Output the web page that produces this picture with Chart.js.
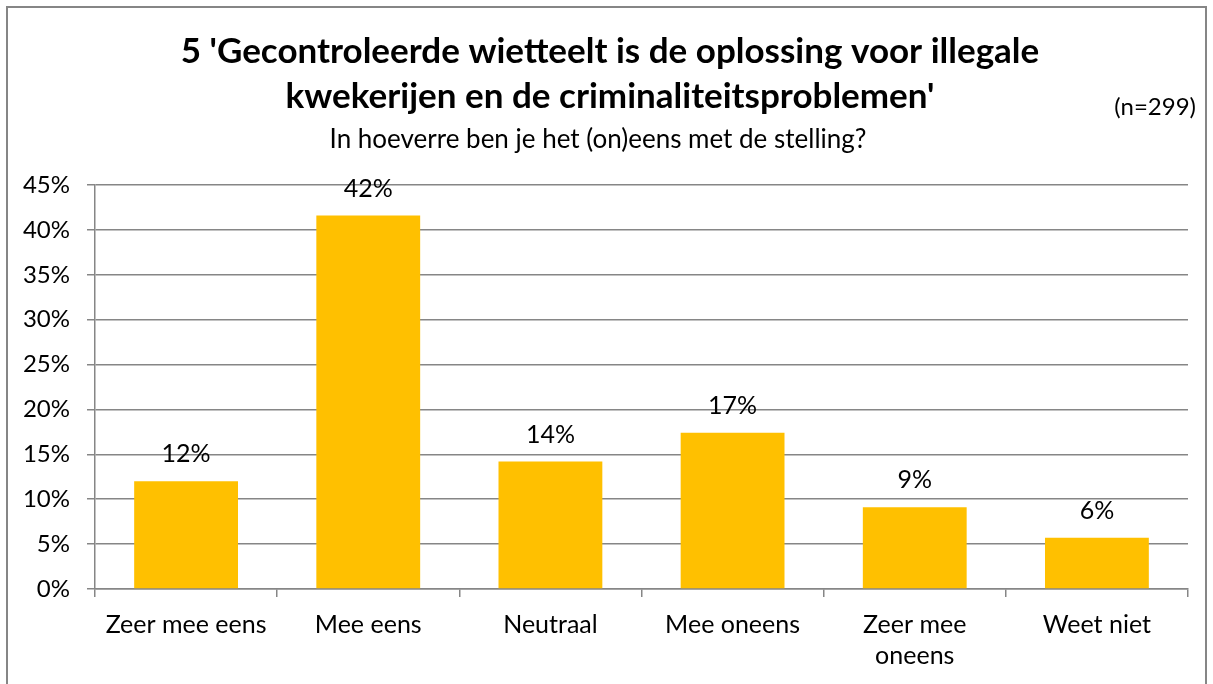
<!DOCTYPE html>
<html>
<head>
<meta charset="utf-8">
<script src="https://cdn.jsdelivr.net/npm/chart.js@4"></script>
<style>
  html,body{margin:0;padding:0;background:#fff;}
  #wrap{width:1213px;height:684px;}
</style>
</head>
<body>
<div id="wrap"><canvas id="c" width="1213" height="684"></canvas></div>
<script>
const categories = ["Zeer mee eens", "Mee eens", "Neutraal", "Mee oneens", ["Zeer mee", "oneens"], "Weet niet"];
const percentages = [12.0, 41.6, 14.2, 17.4, 9.1, 5.7];
const yTicks = [0, 5, 10, 15, 20, 25, 30, 35, 40, 45];
const titleLines = ["5 'Gecontroleerde wietteelt is de oplossing voor illegale", "kwekerijen en de criminaliteitsproblemen'"];
const subtitleText = "In hoeverre ben je het (on)eens met de stelling?";
const sampleNote = "(n=299)";

const FONT = "Lato, 'Open Sans', sans-serif";

const framePlugin = {
  id: 'frame',
  afterLayout(chart) {
    chart.boxes.forEach(b => {
      if (b.position === 'top' && b.options && b.options.text !== undefined) {
        if (Array.isArray(b.options.text)) { b.left += 32; }
        else { b.left += 8; }
      }
    });
  },
  beforeDraw(chart) {
    const ctx = chart.ctx;
    ctx.save();
    ctx.fillStyle = '#ffffff';
    ctx.fillRect(0, 0, chart.width, chart.height);
    ctx.strokeStyle = '#868686';
    ctx.lineWidth = 2;
    ctx.strokeRect(7, 7, 1199, 700);
    ctx.restore();
  },
  afterDraw(chart) {
    const ctx = chart.ctx;
    ctx.save();
    ctx.fillStyle = '#000';
    ctx.font = "24px " + FONT;
    ctx.textAlign = 'right';
    ctx.textBaseline = 'middle';
    ctx.fillText(sampleNote, 1196, 107);
    ctx.restore();
  }
};

const valueLabels = {
  id: 'valueLabels',
  afterDatasetsDraw(chart) {
    const ctx = chart.ctx;
    const meta = chart.getDatasetMeta(0);
    ctx.save();
    ctx.fillStyle = '#000';
    ctx.font = "25px " + FONT;
    ctx.textAlign = 'center';
    ctx.textBaseline = 'middle';
    meta.data.forEach((bar, i) => {
      ctx.fillText(Math.round(percentages[i]) + '%', bar.x, bar.y - 27);
    });
    ctx.restore();
  }
};

new Chart(document.getElementById('c'), {
  type: 'bar',
  data: {
    labels: categories,
    datasets: [{
      data: percentages,
      backgroundColor: '#FFC000',
      borderWidth: 0,
      categoryPercentage: 1,
      barPercentage: 0.57
    }]
  },
  options: {
    responsive: false,
    animation: false,
    layout: { padding: { left: 0, right: 25, top: 0, bottom: 0 } },
    plugins: {
      legend: { display: false },
      tooltip: { enabled: false },
      title: {
        display: true,
        text: titleLines,
        color: '#000',
        font: { family: FONT, size: 35, weight: 'bold', lineHeight: 45/35 },
        padding: { top: 29.5, bottom: 7.5 }
      },
      subtitle: {
        display: true,
        text: subtitleText,
        color: '#000',
        font: { family: FONT, size: 26, lineHeight: 26/26 },
        padding: { top: 0, bottom: 32 }
      }
    },
    scales: {
      x: {
        offset: true,
        afterFit(scale) { scale.height = 95; },
        grid: { display: true, drawOnChartArea: false, drawTicks: true, tickLength: 8, offset: true, color: '#868686', lineWidth: 1.5 },
        border: { display: true, color: '#868686', width: 1.5 },
        ticks: { color: '#000', font: { family: FONT, size: 25, lineHeight: 31/25 }, padding: 12, maxRotation: 0, autoSkip: false }
      },
      y: {
        min: 0,
        max: 45,
        afterFit(scale) { scale.width = 95; },
        afterBuildTicks(scale) { scale.ticks = yTicks.map(v => ({ value: v })); },
        grid: { color: '#868686', lineWidth: 1.5, tickLength: 8, drawTicks: true },
        border: { display: true, color: '#868686', width: 1.5 },
        ticks: { color: '#000', font: { family: FONT, size: 24 }, padding: 17, callback: v => v + '%' }
      }
    }
  },
  plugins: [framePlugin, valueLabels]
});
</script>
</body>
</html>
